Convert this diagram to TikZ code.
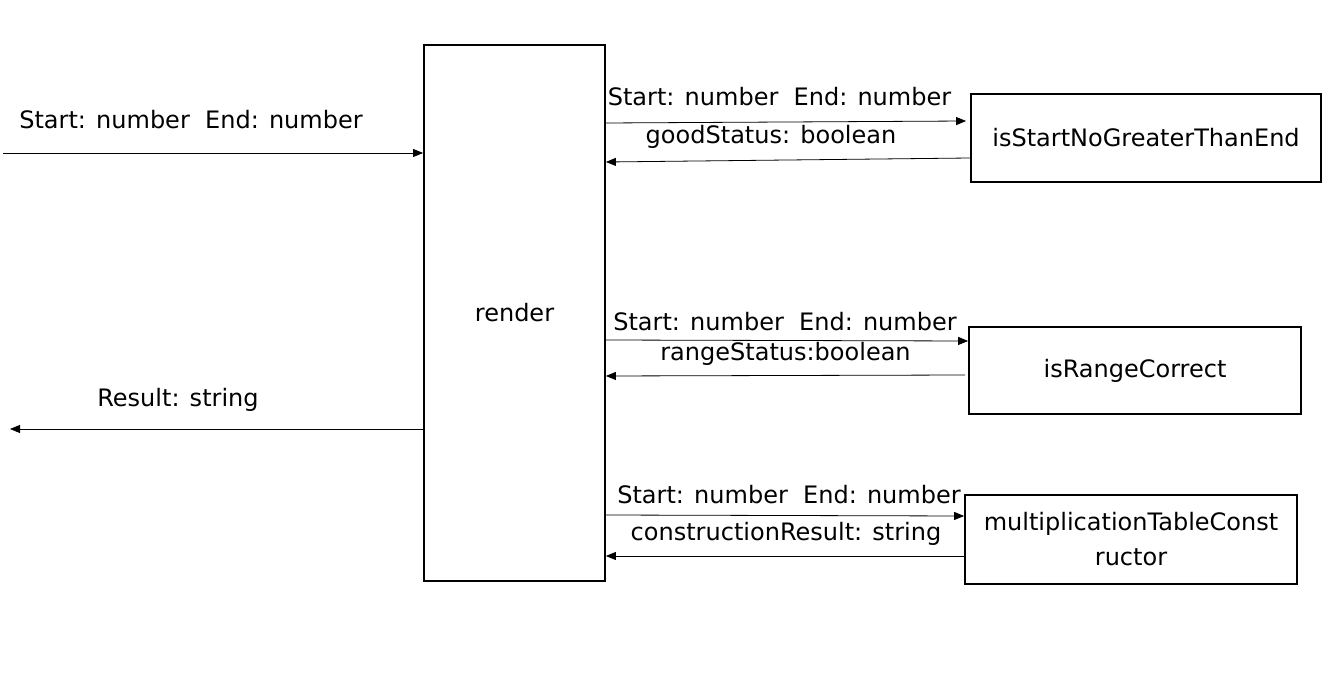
\documentclass[tikz,border=0pt]{standalone}
\usepackage{fontspec}
\setmainfont{DejaVu Sans}[Ligatures={NoCommon}]
\usetikzlibrary{arrows.meta}
\begin{document}
\begin{tikzpicture}[x=1pt,y=-1pt,
  box/.style={draw,line width=1.8pt,inner sep=0pt,font=\fontsize{24}{35}\selectfont,align=center},
  arr/.style={line width=0.8pt,-{Triangle[length=10pt,width=8pt]}},
  lbl/.style={inner sep=0pt,font=\fontsize{24}{35}\selectfont}]
\useasboundingbox (0,0) rectangle (1338,684);
\node[box,minimum width=181pt,minimum height=536pt] (render) at (514.5,313) {\raisebox{-2pt}{render}};
\node[box,minimum width=350pt,minimum height=88pt] (b1) at (1146,138) {\raisebox{-3pt}{isStartNoGreaterThanEnd}};
\node[box,minimum width=332pt,minimum height=87pt] (b2) at (1135,370.5) {\raisebox{-4pt}{isRangeCorrect}};
\node[box,minimum width=332pt,minimum height=89pt] (b3) at (1131,539.5) {multiplicationTableConst\\ructor};
\coordinate (inS) at (3,153);
\coordinate (outE) at (10,429);
\draw[arr] (inS) -- ([yshift=160pt]render.west);
\draw[arr] ([yshift=-116pt]render.west) -- (outE);
\draw[arr] ([yshift=190pt]render.east) -- ([xshift=-4pt,yshift=17pt]b1.west);
\draw[arr] ([yshift=-20pt]b1.west) -- ([yshift=151pt]render.east);
\draw[arr] ([yshift=-27pt]render.east) -- ([yshift=29.5pt]b2.west);
\draw[arr] ([xshift=-3pt,yshift=-4.5pt]b2.west) -- ([yshift=-63pt]render.east);
\draw[arr] ([yshift=-202pt]render.east) -- ([yshift=23.5pt]b3.west);
\draw[arr] ([yshift=-16.5pt]b3.west) -- ([yshift=-243pt]render.east);
\node[lbl] (tin) at (191,120) {Start: number\ \ End: number};
\node[lbl] (tout) at (178,400) {Result: string};
\node[lbl] (t1a) at (779.5,97) {Start: number\ \ End: number};
\node[lbl] (t1b) at (771,137) {goodStatus: boolean};
\node[lbl] (t2a) at (785,322) {Start: number\ \ End: number};
\node[lbl] (t2b) at (785.5,354) {rangeStatus:boolean};
\node[lbl] (t3a) at (789,495) {Start: number\ \ End: number};
\node[lbl] (t3b) at (786,534) {constructionResult: string};
\end{tikzpicture}
\end{document}
